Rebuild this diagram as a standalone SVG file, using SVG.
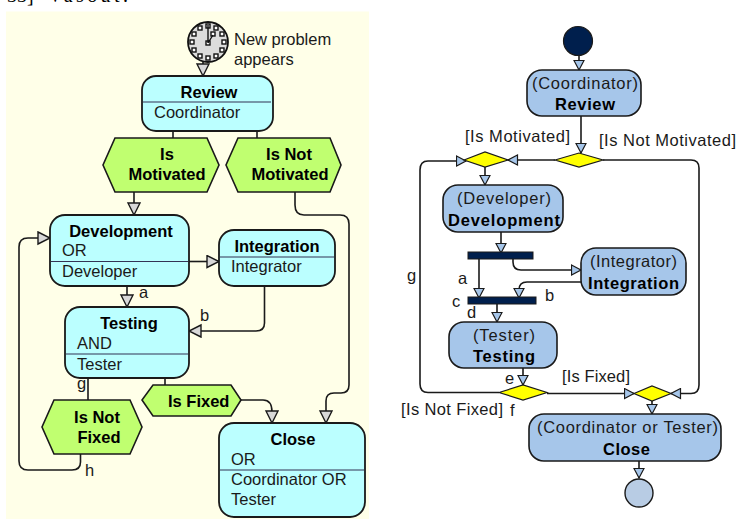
<svg xmlns="http://www.w3.org/2000/svg" width="736" height="519" viewBox="0 0 736 519">
<style>
text{font-family:"Liberation Sans",Arial,sans-serif;font-size:16.5px;fill:#1a1a1a}
.b{font-weight:bold;fill:#000}
.m{text-anchor:middle}
.c{fill:none;stroke:#1a1a1a;stroke-width:1.6}
.l{marker-end:url(#gh)}
.r{marker-end:url(#bh)}
.task{fill:#bbffff;stroke:#1a1a1a;stroke-width:1.8}
.hex{fill:#c0ff70;stroke:#1a1a1a;stroke-width:1.6}
.div{stroke:#335;stroke-width:1.2;fill:none}
.act{fill:#a6c6ea;stroke:#1a1a1a;stroke-width:1.6}
.dia{fill:#ffff00;stroke:#1a1a1a;stroke-width:1.2}
.bar{fill:#001f4d;stroke:#1a1a1a;stroke-width:1}
.tick{fill:#fff;stroke:#111;stroke-width:1.4}
.top{font-family:"Liberation Serif",serif;font-size:20px;fill:#000}
</style>
<defs>
<marker id="gh" markerUnits="userSpaceOnUse" markerWidth="15" markerHeight="15" refX="13" refY="7" orient="auto"><path d="M1 1L13 7L1 13Z" fill="#d8d8d8" stroke="#1a1a1a" stroke-width="1.4"/></marker>
<marker id="bh" markerUnits="userSpaceOnUse" markerWidth="12" markerHeight="12" refX="10.5" refY="6" orient="auto"><path d="M1 1L10.5 6L1 11Z" fill="#a6c6ea" stroke="#1a1a1a" stroke-width="1.2"/></marker>
</defs>
<rect x="6" y="11.500" width="363" height="507.500" fill="#ffffe8"/>
<text class="top" x="7" y="2">33]</text>
<text class="top" x="48" y="2" textLength="80">Vasout.</text>

<g id="connectors">
<path class="c l" d="M203 62V76"/>
<path class="c" d="M173 131V138M257 131V138M165 378V385M88 378V400"/>
<path class="c l" d="M134 192V215"/>
<path class="c l" d="M295 192V205Q295 215 304 215H340Q349 215 349 224V385Q349 393 341 393H334Q326 393 326 401V423"/>
<path class="c l" d="M189 261.500H219"/>
<path class="c l" d="M127 286V307"/>
<path class="c l" d="M264.500 284V323Q264.500 331 256 331H189"/>
<path class="c l" d="M241 400H263Q272 400 272 412V423"/>
<path class="c l" d="M80.500 454V462Q80.500 470 72 470H28Q19 470 19 461V247Q19 238 28 238H50"/>
<path class="c r" d="M579 55V70"/>
<path class="c r" d="M581 116V153"/>
<path class="c r" d="M555 160H508"/>
<path class="c r" d="M485 167V185"/>
<path class="c r" d="M501 232V253"/>
<path class="c r" d="M479 259V298"/>
<path class="c r" d="M513 259V262Q513 270 521 270H581"/>
<path class="c r" d="M581 282H527Q519 282 519 290V298"/>
<path class="c r" d="M497 304V322"/>
<path class="c r" d="M523 368V385"/>
<path class="c r" d="M499 392.500H428Q420 392.500 420 384V170Q420 161 428 161H466"/>
<path class="c r" d="M603 160H691Q699 160 699 168V385Q699 393.500 691 393.500H671"/>
<path class="c r" d="M547 393.500H634"/>
<path class="c r" d="M652 401V414"/>
<path class="c r" d="M639 461V478"/>
</g>

<g id="new-problem">
<circle cx="208" cy="42" r="20" fill="#dcdcdc" stroke="#111" stroke-width="1.800"/>
<g class="tick">
<rect x="206" y="24" width="4" height="4"/><rect x="214" y="26" width="4" height="4"/><rect x="220" y="32" width="4" height="4"/><rect x="222" y="40" width="4" height="4"/><rect x="220" y="48" width="4" height="4"/><rect x="214" y="54" width="4" height="4"/><rect x="206" y="56" width="4" height="4"/><rect x="198" y="54" width="4" height="4"/><rect x="192" y="48" width="4" height="4"/><rect x="190" y="40" width="4" height="4"/><rect x="192" y="32" width="4" height="4"/><rect x="198" y="26" width="4" height="4"/>
<rect x="211" y="32" width="4" height="4"/><rect x="206" y="41" width="4" height="4"/>
</g>
<path d="M208 43V25M208 43L213 35" stroke="#111" stroke-width="1.400" fill="none"/>
<text x="234" y="45">New problem</text>
<text x="234" y="65">appears</text>
</g>

<g id="review">
<rect class="task" x="142" y="76" width="131" height="55" rx="14"/>
<path class="div" d="M143 102H271"/>
<text class="b m" x="209" y="98">Review</text>
<text x="154" y="118">Coordinator</text>
</g>
<g id="is-motivated">
<path class="hex" d="M115 138H207L219 165L207 192H115L103 165Z"/>
<text class="b m" x="167" y="160">Is</text>
<text class="b m" x="167" y="180">Motivated</text>
</g>
<g id="is-not-motivated">
<path class="hex" d="M238 138H330L341 165L330 192H238L226 165Z"/>
<text class="b m" x="289" y="160">Is Not</text>
<text class="b m" x="290" y="180">Motivated</text>
</g>
<g id="development">
<rect class="task" x="50" y="215" width="139" height="71" rx="15"/>
<path class="div" d="M51 261.500H188"/>
<text class="b m" x="121" y="237">Development</text>
<text x="62" y="256">OR</text>
<text x="62" y="277">Developer</text>
</g>
<g id="integration">
<rect class="task" x="219" y="230" width="116" height="56" rx="15"/>
<path class="div" d="M220 257H334"/>
<text class="b m" x="277" y="252">Integration</text>
<text x="231" y="272">Integrator</text>
</g>
<g id="testing">
<rect class="task" x="65" y="307" width="124" height="71" rx="15"/>
<path class="div" d="M66 354H188"/>
<text class="b m" x="129" y="329">Testing</text>
<text x="77" y="349">AND</text>
<text x="77" y="370">Tester</text>
</g>
<g id="is-not-fixed">
<path class="hex" d="M54 400H130L142 427L130 454H54L42 427Z"/>
<text class="b m" x="97" y="423">Is Not</text>
<text class="b m" x="99" y="443">Fixed</text>
</g>
<g id="is-fixed">
<path class="hex" d="M153 385H231L241 400L231 416H153L142 400Z"/>
<text class="b" x="168" y="407">Is Fixed</text>
</g>
<g id="close">
<rect class="task" x="219" y="423" width="146" height="94" rx="15"/>
<path class="div" d="M220 470H364"/>
<text class="b m" x="293" y="445">Close</text>
<text x="231" y="465">OR</text>
<text x="231" y="485">Coordinator OR</text>
<text x="231" y="505">Tester</text>
</g>
<g id="labels-left">
<text x="139" y="298">a</text>
<text x="200" y="321">b</text>
<text x="77" y="389">g</text>
<text x="85" y="476">h</text>
</g>

<g id="start">
<circle cx="578" cy="41" r="14.500" fill="#001f4d" stroke="#1a1a1a" stroke-width="1.200"/>
</g>
<g id="uml-review">
<rect class="act" x="527" y="70" width="114" height="46" rx="15"/>
<text x="532" y="89" textLength="106">(Coordinator)</text>
<text class="b" x="555" y="110" textLength="60">Review</text>
</g>
<g id="decision-motivated">
<path class="dia" d="M555 160L579 153L603 160L579 167Z"/>
</g>
<g id="merge-development">
<path class="dia" d="M464 160L485 152L508 160L485 167Z"/>
</g>
<g id="uml-development">
<rect class="act" x="443" y="185" width="120" height="47" rx="15"/>
<text x="457" y="204" textLength="94">(Developer)</text>
<text class="b" x="448" y="226" textLength="112">Development</text>
</g>
<g id="fork">
<rect class="bar" x="468" y="252" width="65" height="7"/>
</g>
<g id="uml-integration">
<rect class="act" x="581" y="248" width="105" height="47" rx="15"/>
<text x="590" y="267" textLength="87">(Integrator)</text>
<text class="b" x="588" y="289" textLength="91">Integration</text>
</g>
<g id="join">
<rect class="bar" x="468" y="297" width="68" height="7"/>
</g>
<g id="uml-testing">
<rect class="act" x="449" y="322" width="108" height="46" rx="15"/>
<text x="473" y="341" textLength="62">(Tester)</text>
<text class="b" x="473" y="362" textLength="62">Testing</text>
</g>
<g id="decision-fixed">
<path class="dia" d="M499 392.500L523 385L547 392.500L523 400Z"/>
</g>
<g id="merge-close">
<path class="dia" d="M634 393.500L652 386L671 393.500L652 401Z"/>
</g>
<g id="uml-close">
<rect class="act" x="529" y="414" width="192" height="47" rx="15"/>
<text x="537" y="433" textLength="181">(Coordinator or Tester)</text>
<text class="b" x="603" y="455" textLength="47">Close</text>
</g>
<g id="end">
<circle cx="639" cy="493" r="14" fill="#b8cce4" stroke="#1a1a1a" stroke-width="1.400"/>
</g>
<g id="labels-right">
<text x="465" y="142" textLength="105">[Is Motivated]</text>
<text x="599" y="146" textLength="137">[Is Not Motivated]</text>
<text x="562" y="382" textLength="68">[Is Fixed]</text>
<text x="401" y="415" textLength="102">[Is Not Fixed]</text>
<text x="407" y="281">g</text>
<text x="458" y="284">a</text>
<text x="545" y="301">b</text>
<text x="452" y="307">c</text>
<text x="467" y="318">d</text>
<text x="505" y="384">e</text>
<text x="510" y="416">f</text>
</g>
</svg>
